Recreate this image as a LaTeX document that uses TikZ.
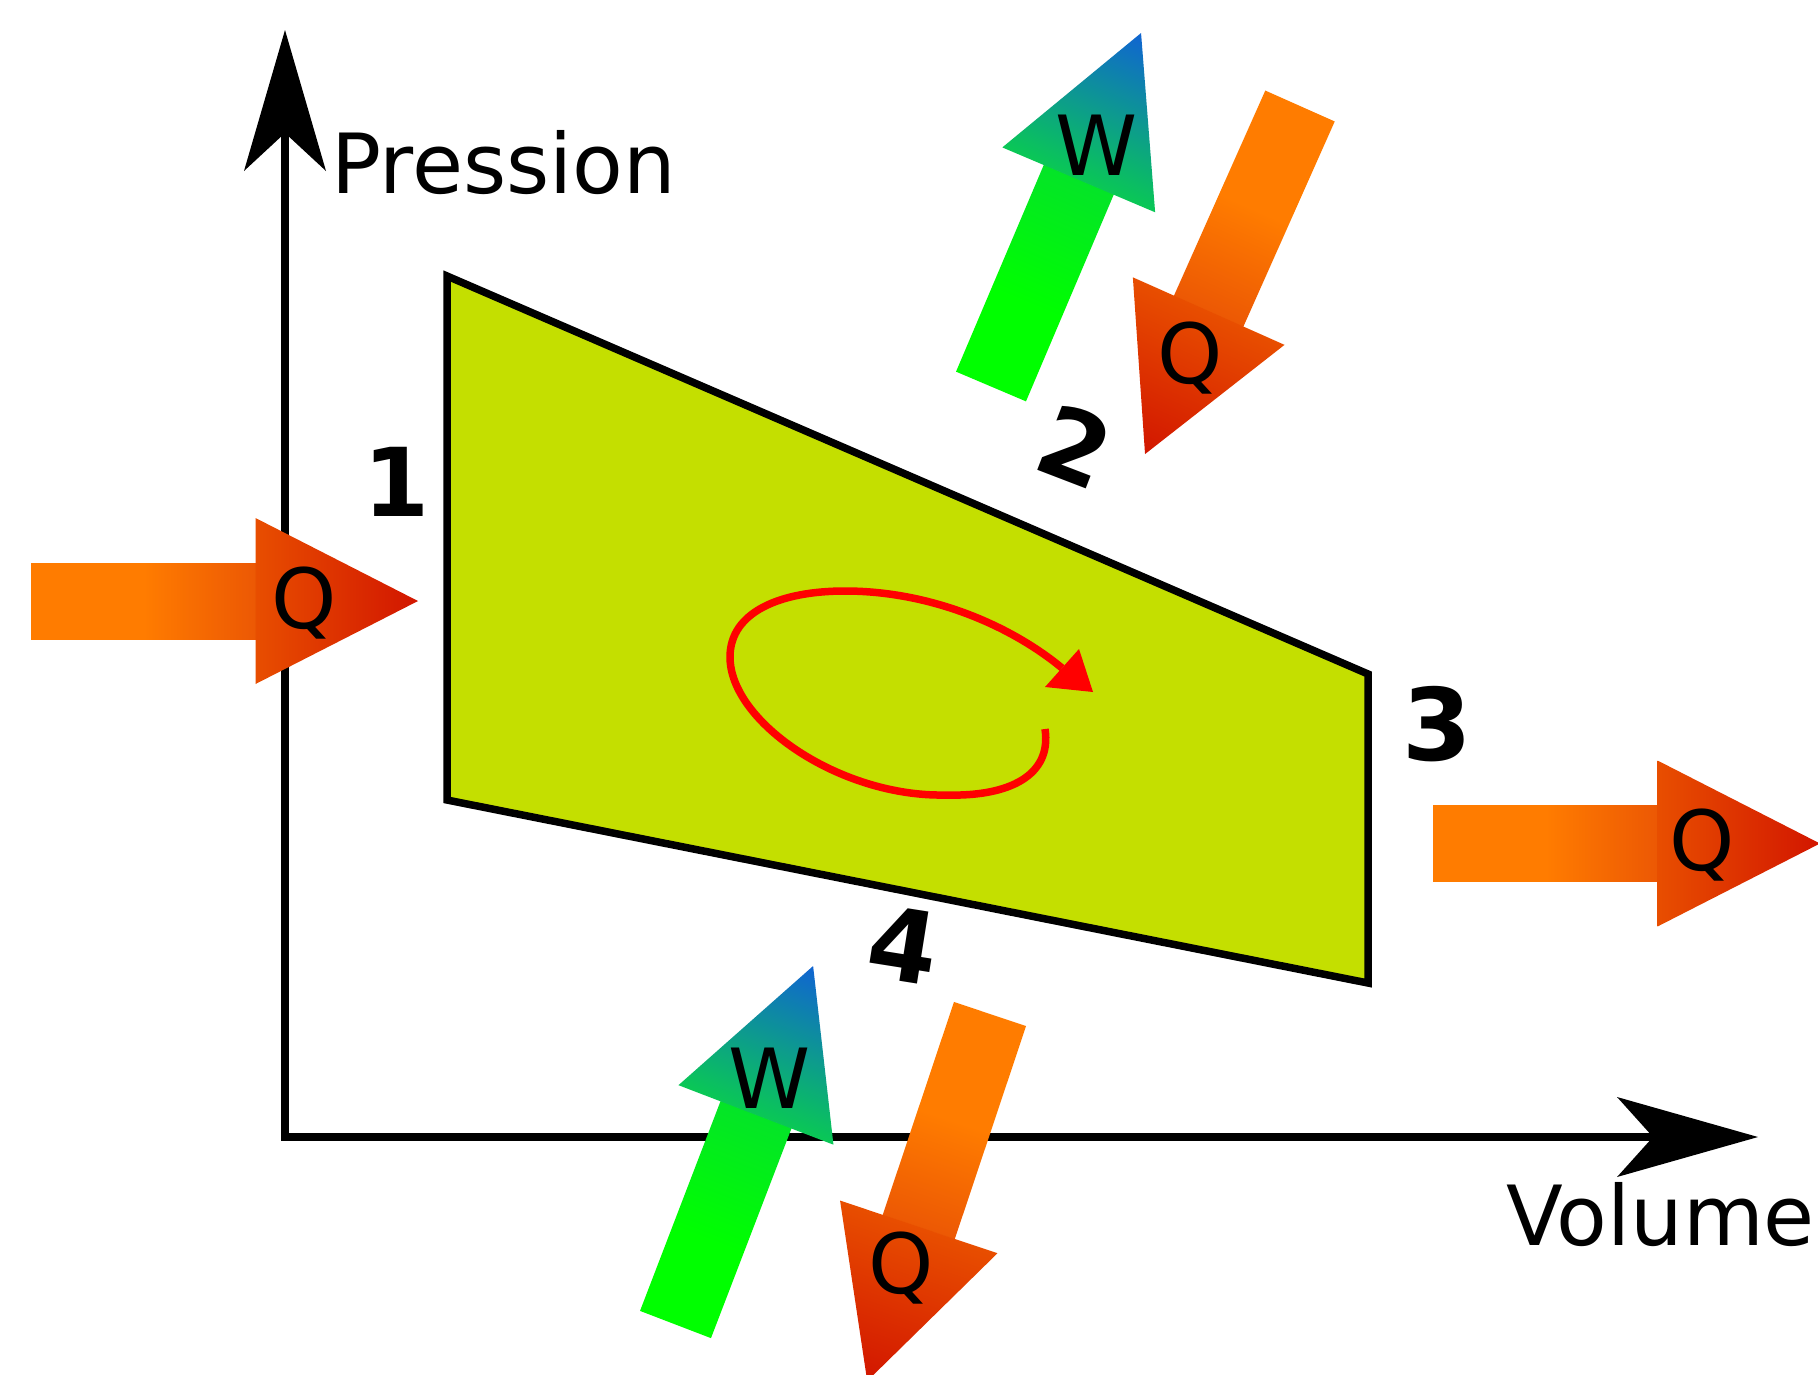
\documentclass[tikz,border=0pt]{standalone}
\usepackage{fontspec}
\setmainfont{DejaVu Sans}
\definecolor{pvfill}{RGB}{196,223,0}
\definecolor{qor}{RGB}{255,124,0}
\definecolor{qmid}{RGB}{236,88,4}
\definecolor{qhead}{RGB}{232,78,0}
\definecolor{qtip}{RGB}{210,22,0}
\definecolor{wbot}{RGB}{0,255,0}
\definecolor{wtop}{RGB}{4,228,40}
\definecolor{whead}{RGB}{10,200,85}
\definecolor{wtip}{RGB}{16,100,210}
\pgfdeclarehorizontalshading{qshaft}{100bp}{color(0bp)=(qor); color(50bp)=(qor); color(75bp)=(qmid); color(100bp)=(qmid)}
\pgfdeclarehorizontalshading{wshaft}{100bp}{color(0bp)=(wbot); color(45bp)=(wbot); color(75bp)=(wtop); color(100bp)=(wtop)}
\newcommand{\flowarrow}[7]{%
  \begin{scope}[transform canvas={shift={(#1,#2)},rotate=#3}]
    \shade[shading=#4] (0,-38) rectangle (225,38);
    \shade[left color=#5,right color=#6] (224.5,-83) -- (#7,0) -- (224.5,83) -- cycle;
  \end{scope}}
\begin{document}
\begin{tikzpicture}[x=1pt,y=-1pt,
  lbl/.style={inner sep=0pt, font=\fontsize{83}{100}\selectfont},
  numlbl/.style={inner sep=0pt, font=\fontsize{98}{110}\selectfont\bfseries},
  axisline/.style={line width=8, line join=miter},
  cycleline/.style={line width=7.5, line join=miter, fill=pvfill},
  loopline/.style={red, line width=7.5}]
\fill[white] (0,0) rectangle (1818,1374);
\useasboundingbox (0,0) rectangle (1818,1374);

% axes
\coordinate (ytip) at (285,30);
\coordinate (yend) at (285,133);
\coordinate (O) at (285,1137);
\coordinate (xend) at (1653,1137);
\coordinate (xtip) at (1758,1137);
\draw[axisline] (yend) -- (O) -- (xend);
\fill (ytip) -- (326,171) -- (yend) -- (244,171) -- cycle;
\fill (xtip) -- (1617,1177) -- (xend) -- (1617,1097) -- cycle;

% cycle
\draw[cycleline] (447,276) -- (1368,674) -- (1368,983) -- (447,800) -- cycle;

% loop arrow
\coordinate (lstart) at (1045,729);
\coordinate (lend) at (1062,668);
\draw[loopline] (lstart) .. controls (1052,775) and (1010,797) .. (945,795)
  .. controls (840,797) and (730,722) .. (730,657)
  .. controls (730,612) and (780,591) .. (845,591)
  .. controls (930,591) and (1010,625) .. (lend);
\fill[red] (1093,692) -- (1045,687) -- (1079,649) -- cycle;

% heat and work arrows
\flowarrow{31}{601}{0}{qshaft}{qhead}{qtip}{387}
\flowarrow{1433}{843.5}{0}{qshaft}{qhead}{qtip}{387}
\flowarrow{991}{386.5}{67}{wshaft}{whead}{wtip}{384}
\flowarrow{1300}{106}{246}{qshaft}{qhead}{qtip}{381}
\flowarrow{675.5}{1324.5}{69}{wshaft}{whead}{wtip}{384}
\flowarrow{990}{1014}{251.5}{qshaft}{qhead}{qtip}{387}

% labels
\node[lbl, anchor=base west] (pression) at (331,193) {Pression};
\node[lbl, anchor=base west] (volume) at (1506,1245) {Volume};
\node[lbl, anchor=base] (qL) at (304,628) {Q};
\node[lbl, anchor=base] (qR) at (1702,870) {Q};
\node[lbl, anchor=base] (qT) at (1190,383) {Q};
\node[lbl, anchor=base] (qB) at (901,1293) {Q};
\node[lbl, anchor=base] (wT) at (1097,175) {W};
\node[lbl, anchor=base] (wB) at (770,1108) {W};

\node[numlbl, font=\fontsize{95}{105}\selectfont\bfseries, anchor=base] (n1) at (397,516) {1};
\node[numlbl, rotate=-21] (n2) at (1075,446) {2};
\node[numlbl, font=\fontsize{100}{110}\selectfont\bfseries, anchor=base] (n3) at (1437,760) {3};
\node[numlbl, font=\fontsize{100}{110}\selectfont\bfseries, rotate=-9] (n4) at (904,945) {4};
\end{tikzpicture}
\end{document}
